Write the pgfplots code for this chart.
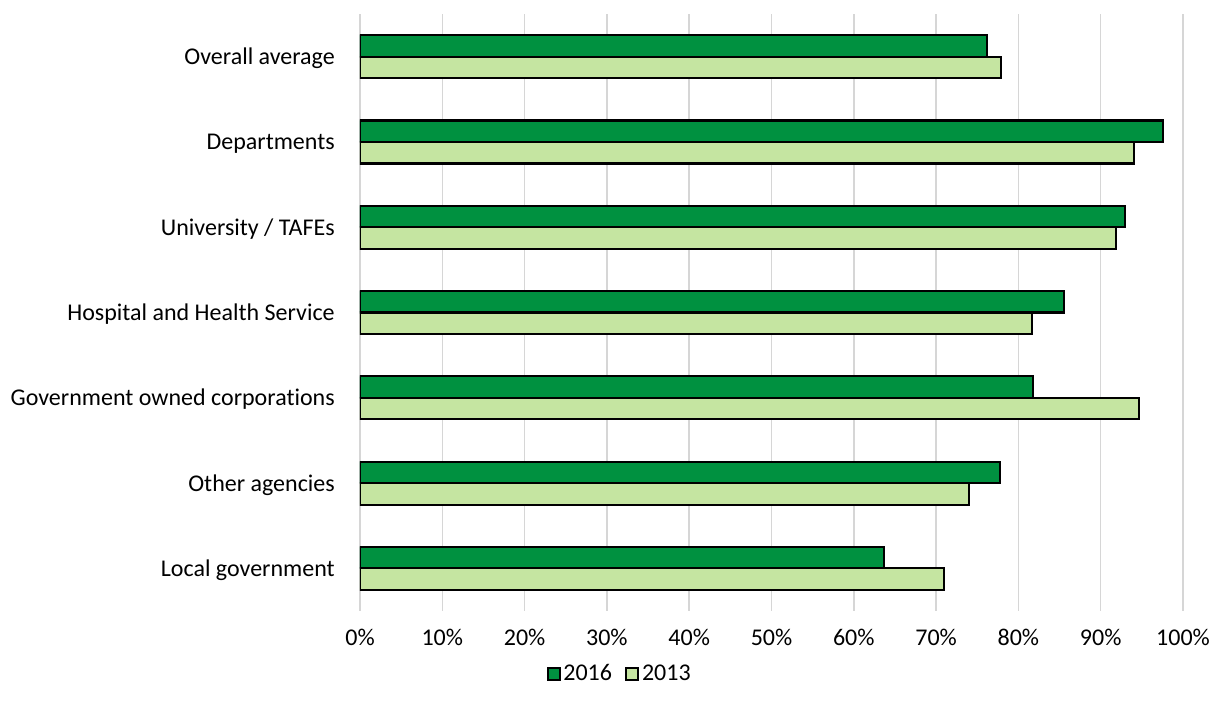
\documentclass[border=0pt]{standalone}
\usepackage{pgfplots}
\pgfplotsset{compat=1.18}
\usepackage{fontspec}
\setmainfont{Carlito}[Ligatures=NoCommon]

\definecolor{darkgreen}{RGB}{0,145,64}
\definecolor{lightgreen}{RGB}{197,229,161}
\definecolor{gridgray}{RGB}{214,214,214}

\begin{document}
\fontsize{18pt}{21pt}\selectfont
\begin{tikzpicture}
\useasboundingbox (-270pt,-69.75pt) rectangle (637.5pt,458.25pt);
\begin{axis}[
  at={(0pt,0pt)}, anchor=south west,
  scale only axis,
  width=617.25pt, height=447.75pt,
  xmin=0, xmax=100,
  ymin=-0.5, ymax=6.5,
  y dir=reverse,
  xbar, bar width=0.252,
  xtick={0,10,...,100},
  xticklabel={\pgfmathprintnumber{\tick}\%},
  ytick={0,1,2,3,4,5,6},
  yticklabels={Overall average, Departments, University / TAFEs, Hospital and Health Service, Government owned corporations, Other agencies, Local government},
  xmajorgrids,
  grid style={gridgray, line width=1.1pt},
  axis line style={draw=none},
  major tick length=0pt,
  /pgf/number format/assume math mode=true,
  tick label style={font=\fontsize{18pt}{21pt}\selectfont},
  xticklabel style={anchor=base, inner sep=0pt, yshift=-25.5pt},
  yticklabel style={anchor=base east, inner sep=0pt, xshift=-18.75pt, yshift=-6pt},
  legend style={draw=none, fill=none, at={(rel axis cs:0.316,-0.106)}, anchor=center,
    legend columns=2, font=\fontsize{18pt}{21pt}\selectfont,
    /tikz/every even column/.append style={column sep=8pt}},
  legend image code/.code={\draw[#1, line width=1.5pt] (0pt,-4.5pt) rectangle (9pt,4.5pt);},
]
\addplot[fill=darkgreen, draw=black, line width=1.6pt, bar shift=-0.126]
  coordinates {(76.2,0) (97.6,1) (92.9,2) (85.5,3) (81.8,4) (77.8,5) (63.7,6)};
\addplot[fill=lightgreen, draw=black, line width=1.6pt, bar shift=0.126]
  coordinates {(77.9,0) (94.0,1) (91.9,2) (81.6,3) (94.7,4) (74.0,5) (71.0,6)};
\legend{2016, 2013}
\end{axis}
\end{tikzpicture}
\end{document}
